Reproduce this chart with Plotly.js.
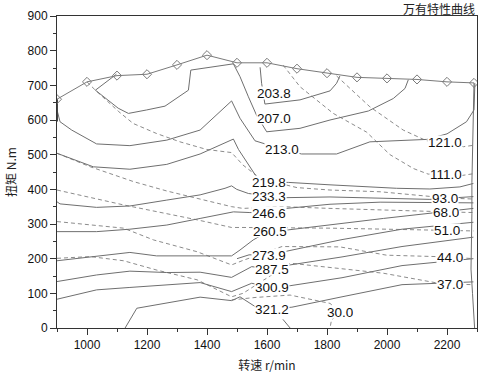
<!DOCTYPE html>
<html><head><meta charset="utf-8">
<script src="https://cdn.plot.ly/plotly-3.0.1.min.js"></script>
<style>html,body{margin:0;padding:0;background:#fff}#chart{width:480px;height:373px}</style>
</head><body><div id="chart"></div>
<script>
// External (full-load) characteristic
const fullN = [900,1000,1100,1200,1300,1400,1500,1600,1700,1800,1900,2000,2100,2200,2290];
const fullT = [660,710,728,732,759,787,765,765,748,735,723,720,717,710,707];

// Fuel consumption contours (g/kWh), solid
const c2038N = [1577,1582,1593,1710,1810,1832,1843];
const c2038T = [752,706,646,658,684,706,727];
const c2070N = [1098,1028,1104,1138,1199,1260,1338,1346,1488,1510,1538,1565,1599,1710,1810,1938,2021,2060,2071];
const c2070T = [732,686,634,619,629,640,686,744,762,725,667,614,566,576,600,626,662,691,716];
const c2130N = [900,900,910,949,1032,1143,1266,1377,1482,1510,1560,1650,1715,1832,1943,2132,2200,2265,2290,2293];
const c2130T = [660,629,595,571,531,526,542,571,655,605,540,516,502,502,537,544,560,595,629,706];
const c2198N = [900,1021,1143,1266,1377,1488,1505,1565,1607,1671,1810,1921,2032,2143,2243,2288];
const c2198T = [504,465,458,472,502,545,515,436,421,420,413,407,403,401,407,417];
const c2333N = [900,910,1032,1143,1266,1377,1460,1482,1499,1538,1607,1665,1810,1977,2143,2288];
const c2333T = [364,358,348,352,369,384,403,410,400,388,381,376,378,375,371,379];
const c2466N = [900,1032,1143,1266,1377,1488,1543,1607,1665,1810,1977,2143,2288];
const c2466T = [278,278,285,297,316,335,333,332,345,357,363,362,361];
const c2605N = [900,1032,1143,1232,1377,1482,1510,1554,1607,1671,1988,2288];
const c2605T = [194,208,218,208,208,208,225,254,280,283,316,345];
const c2739N = [1500,1540,1607,1665,1850,2050,2288];
const c2739T = [200,211,211,222,255,285,305];
const c2875N = [900,1032,1143,1266,1377,1482,1549,1607,1677,1850,2050,2288];
const c2875T = [134,153,164,160,161,146,177,170,182,205,235,262];
const c3009N = [900,1032,1143,1266,1377,1482,1549,1610,1677,1850,2050,2288];
const c3009T = [83,110,117,124,131,105,129,118,122,145,180,200];
const c3212N = [1127,1166,1377,1482,1510,1560,1612,1683,1850,2050,2288];
const c3212T = [0,57,89,79,90,62,55,60,90,125,133];
const c3212bN = [1653,1677];
const c3212bT = [25,0];
const edgeN = [2290,2288,2285,2283,2283,2280,2285,2290,2292];
const edgeT = [707,640,560,420,330,170,100,30,0];
const leftEdgeN = [900,900];
const leftEdgeT = [660,596];

// Power contours (kW), dashed
const p1210N = [1832,1943,2054,2132,2193,2255,2288];
const p1210T = [727,638,571,540,536,523,527];
const p1110N = [1654,1710,1821,1932,2010,2088,2137,2193,2250,2288];
const p1110T = [758,696,619,565,500,460,444,444,440,445];
const p930N = [1000,1028,1106,1154,1232,1310,1399,1482,1520,1580,1700,1810,1977,2143,2200,2288];
const p930T = [710,686,624,590,561,537,515,506,470,430,405,398,393,378,375,372];
const p680N = [900,1011,1156,1267,1367,1482,1520,1650,1810,1977,2200,2288];
const p680T = [504,465,422,395,374,350,345,350,345,340,335,333];
const p510N = [900,1122,1367,1482,1520,1650,1810,2000,2200,2288];
const p510T = [398,355,312,290,290,290,288,285,283,280];
const p440N = [900,1122,1222,1367,1482,1520,1650,1843,1999,2205,2288];
const p440T = [307,288,254,220,182,195,235,234,210,205,200];
const p370N = [900,1011,1122,1233,1367,1482,1520,1677,1988,2166,2205,2288];
const p370T = [201,206,194,167,139,90,100,187,158,130,127,125];
const p300N = [1482,1560,1677,1810,1843,1815,1810];
const p300T = [81,88,95,71,46,23,0];

// Labels
const fuelLabels = ['203.8','207.0','213.0','219.8','233.3','246.6','260.5','273.9','287.5','300.9','321.2'];
const fuelLabN = [1623,1623,1650,1607,1607,1607,1610,1607,1615,1615,1617];
const fuelLabT = [678,606,516,422,380,332,280,212,169,118,55];
const powLabels = ['121.0','111.0','93.0','68.0','51.0','44.0','37.0','30.0'];
const powLabN = [2193,2196,2193,2196,2200,2210,2210,1843];
const powLabT = [536,444,376,334,283,205,127,46];

const solidColor = '#6f6f6f';
const dashColor = '#8c8c8c';
function solid(x,y){return {x:x,y:y,type:'scatter',mode:'lines',line:{color:solidColor,width:1},hoverinfo:'skip',showlegend:false};}
function dashed(x,y){return {x:x,y:y,type:'scatter',mode:'lines',line:{color:dashColor,width:1,dash:'4px,3px'},hoverinfo:'skip',showlegend:false};}

const traces = [
  dashed(p1210N,p1210T), dashed(p1110N,p1110T), dashed(p930N,p930T), dashed(p680N,p680T),
  dashed(p510N,p510T), dashed(p440N,p440T), dashed(p370N,p370T), dashed(p300N,p300T),
  solid(c2038N,c2038T), solid(c2070N,c2070T), solid(c2130N,c2130T), solid(c2198N,c2198T),
  solid(c2333N,c2333T), solid(c2466N,c2466T), solid(c2605N,c2605T), solid(c2739N,c2739T),
  solid(c2875N,c2875T), solid(c3009N,c3009T), solid(c3212N,c3212T), solid(c3212bN,c3212bT),
  solid(edgeN,edgeT),
  {x:leftEdgeN,y:leftEdgeT,type:'scatter',mode:'lines',line:{color:'#444',width:2},hoverinfo:'skip',showlegend:false},
  {x:fullN,y:fullT,type:'scatter',mode:'lines+markers',line:{color:'#7a7a7a',width:1},
   marker:{symbol:'diamond-open',size:7,color:'#7a7a7a',line:{width:1}},hoverinfo:'skip',showlegend:false}
];

const labFont = {family:'Liberation Sans, Arial, sans-serif',size:13.5,color:'#111'};
const annotations = [];
fuelLabels.forEach((t,i)=>annotations.push({x:fuelLabN[i],y:fuelLabT[i],text:t,showarrow:false,font:labFont,bgcolor:'#ffffff',borderpad:0,height:12,valign:'middle'}));
powLabels.forEach((t,i)=>annotations.push({x:powLabN[i],y:powLabT[i],text:t,showarrow:false,font:labFont,bgcolor:'#ffffff',borderpad:0,height:12,valign:'middle'}));
annotations.push({xref:'paper',yref:'paper',x:1,y:1,xanchor:'right',yanchor:'middle',yshift:8,text:'万有特性曲线',showarrow:false,
  font:{family:'Noto Sans CJK SC',size:12,color:'#222'}});

const axisCommon = {showgrid:false,zeroline:false,showline:true,linecolor:'#333',linewidth:1,mirror:true,
  ticks:'outside',ticklen:6,tickcolor:'#333',tickfont:{family:'Liberation Sans, Arial, sans-serif',size:12,color:'#111'}};

const layout = {
  width:480,height:373,margin:{l:57,r:3,t:16,b:45},paper_bgcolor:'#fff',plot_bgcolor:'#fff',
  xaxis:Object.assign({},axisCommon,{range:[900,2300],tickvals:[1000,1200,1400,1600,1800,2000,2200],
    minor:{dtick:100,tick0:900,ticklen:3,ticks:'outside',tickcolor:'#333'},
    title:{text:'转速 r/min',font:{family:'Noto Sans CJK SC',size:12,color:'#222'},standoff:10}}),
  yaxis:Object.assign({},axisCommon,{range:[0,900],dtick:100,
    minor:{dtick:50,ticklen:3,ticks:'outside',tickcolor:'#333'},
    title:{text:'扭矩 N.m',font:{family:'Noto Sans CJK SC',size:12,color:'#222'},standoff:8}}),
  annotations:annotations
};
Plotly.newPlot('chart',traces,layout,{staticPlot:true,displayModeBar:false});
</script></body></html>
